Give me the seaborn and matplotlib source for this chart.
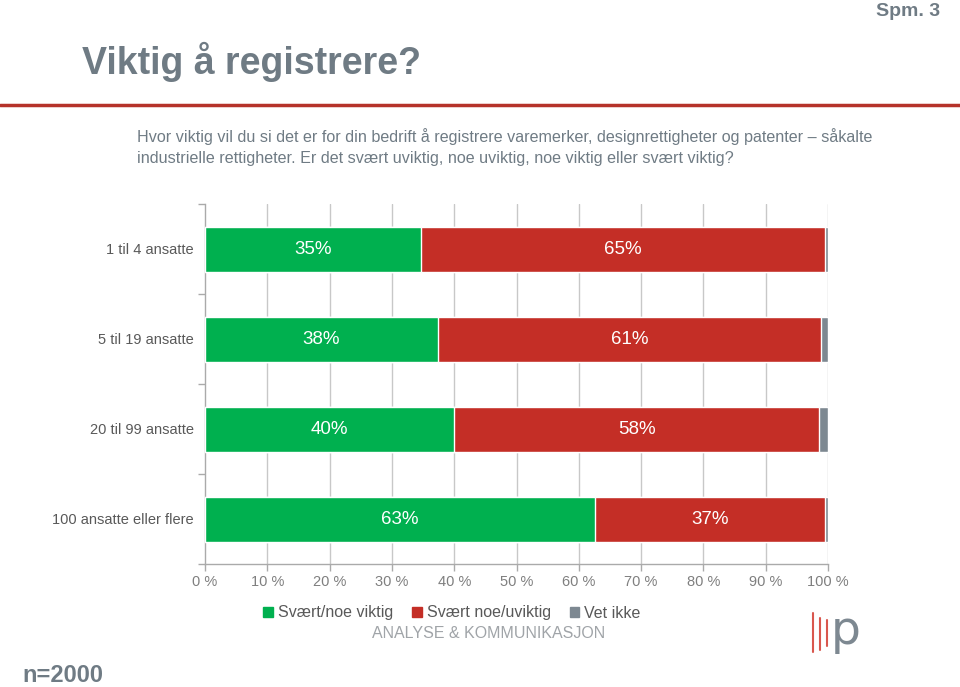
import matplotlib
matplotlib.use("Agg")
import matplotlib.pyplot as plt
import seaborn as sns
import pandas as pd
import numpy as np
from matplotlib.lines import Line2D
from matplotlib.patches import Patch

categories = ["1 til 4 ansatte", "5 til 19 ansatte", "20 til 99 ansatte", "100 ansatte eller flere"]
viktig = [34.7, 37.4, 40.0, 62.6]
uviktig = [64.8, 61.5, 58.6, 36.9]
vet_ikke = [0.5, 1.1, 1.4, 0.5]
labels_viktig = ["35%", "38%", "40%", "63%"]
labels_uviktig = ["65%", "61%", "58%", "37%"]
series_names = ["Svært/noe viktig", "Svært noe/uviktig", "Vet ikke"]
xticks = list(range(0, 101, 10))

GREEN = "#00b04f"
RED = "#c42e26"
GREY = "#7d8891"
TEXT = "#6f7b84"

sns.set_theme(style="white")
plt.rcParams['font.family'] = ['Liberation Sans', 'DejaVu Sans']

fig = plt.figure(figsize=(9.6, 6.87), dpi=100)
ax = fig.add_axes([205/960, 1-564/687, 623/960, 360/687])

df = pd.DataFrame({"cat": categories, "v": viktig, "u": uviktig, "k": vet_ikke})
df["cum_u"] = df["v"] + df["u"]
df["cum_k"] = df["cum_u"] + df["k"]

# gridlines behind
for x in xticks[1:]:
    ax.axvline(x, color="#c8c8c8", lw=1, zorder=0)

sns.barplot(data=df, y="cat", x="cum_k", color=GREY, orient="h", width=0.5, ax=ax, saturation=1, zorder=2)
sns.barplot(data=df, y="cat", x="cum_u", color=RED, orient="h", width=0.5, ax=ax, saturation=1, zorder=3)
sns.barplot(data=df, y="cat", x="v", color=GREEN, orient="h", width=0.5, ax=ax, saturation=1, zorder=4)

for i in range(len(categories)):
    ax.text(viktig[i] / 2, i, labels_viktig[i], ha="center", va="center", color="white", fontsize=13.5, zorder=5)
    ax.text(viktig[i] + uviktig[i] / 2, i, labels_uviktig[i], ha="center", va="center", color="white", fontsize=13.5, zorder=5)

ax.set_xlim(0, 100)
ax.set_ylim(3.5, -0.5)
ax.set_xticks(xticks)
ax.set_xticklabels([f"{t} %" for t in xticks], fontsize=10.5, color="#7f7f7f")
ax.set_yticks(range(len(categories)))
ax.set_yticklabels(categories, fontsize=10.5, color="#595959")
ax.set_xlabel("")
ax.set_ylabel("")
ax.tick_params(axis="y", length=0, pad=8)
ax.tick_params(axis="x", length=5, color="#aaaaaa", width=1, direction="out", bottom=True, pad=3)
ax.set_yticks(np.arange(-0.5, 4, 1), minor=True)
ax.tick_params(axis="y", which="minor", length=5, color="#aaaaaa", left=True)
for s in ["top", "right"]:
    ax.spines[s].set_visible(False)
for s in ["left", "bottom"]:
    ax.spines[s].set_color("#aaaaaa")
    ax.spines[s].set_linewidth(1)

# Titles
fig.text(940/960, 1-12/687, "Spm. 3", ha="right", va="center", fontsize=14, fontweight="bold", color=TEXT)
fig.text(82/960, 1-62/687, "Viktig å registrere?", ha="left", va="center", fontsize=27, fontweight="bold", color=TEXT)
fig.add_artist(Line2D([0, 1], [1-105/687, 1-105/687], transform=fig.transFigure, color="#b5322a", lw=2.5))
fig.text(137/960, 1-137/687, "Hvor viktig vil du si det er for din bedrift å registrere varemerker, designrettigheter og patenter – såkalte",
         ha="left", va="center", fontsize=11.6, color=TEXT)
fig.text(137/960, 1-159/687, "industrielle rettigheter. Er det svært uviktig, noe uviktig, noe viktig eller svært viktig?",
         ha="left", va="center", fontsize=11.6, color=TEXT)

# Legend
handles = [Patch(color=GREEN), Patch(color=RED), Patch(color=GREY)]
leg = fig.legend(handles, series_names, loc="center", bbox_to_anchor=(452/960, 1-613/687), ncol=3, frameon=False,
                 fontsize=11.5, handlelength=0.6, handleheight=0.6, handletextpad=0.3, columnspacing=1.2,
                 labelcolor="#595959")

fig.text(489/960, 1-633/687, "ANALYSE & KOMMUNIKASJON", ha="center", va="center", fontsize=11.5, color="#a0a4a8")

# Logo
for x0, y0, y1 in [(813, 613, 652), (820, 618, 650), (827, 620, 646)]:
    fig.add_artist(Line2D([x0/960, x0/960], [1-y0/687, 1-y1/687], transform=fig.transFigure, color="#d9574e", lw=1.5))
fig.text(846/960, 1-632/687, "p", ha="center", va="center", fontsize=34, color="#7d8891", family=["DejaVu Sans"])

fig.text(22/960, 1-675/687, "n=2000", ha="left", va="center", fontsize=17, fontweight="bold", color=TEXT)

fig.savefig("out.png", dpi=100)
